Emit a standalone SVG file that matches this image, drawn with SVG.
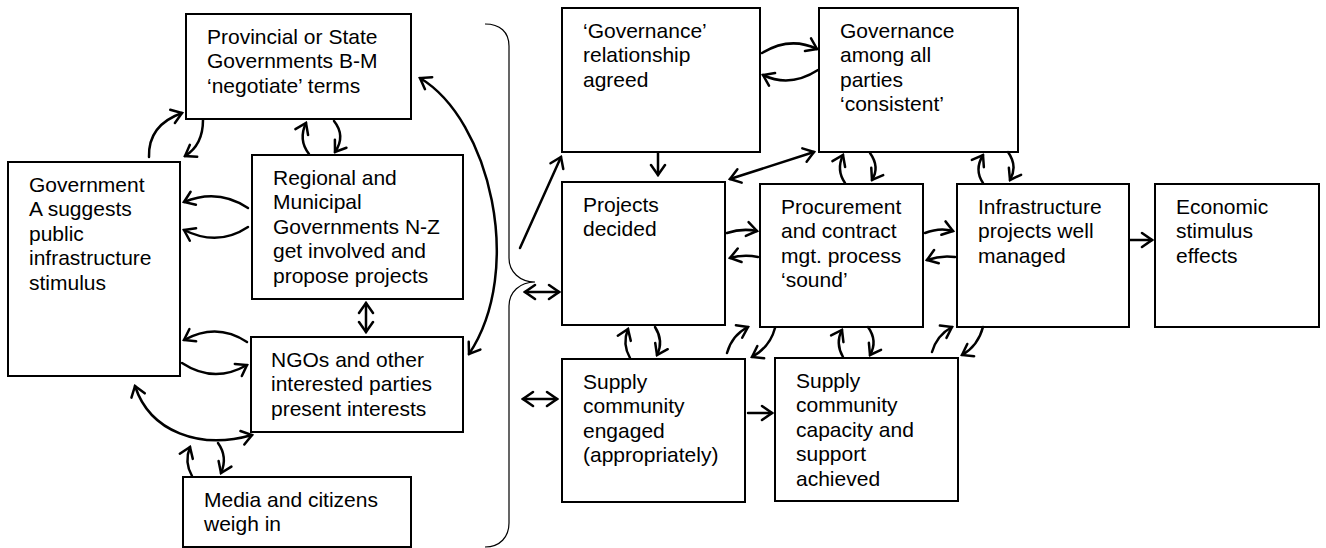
<svg xmlns="http://www.w3.org/2000/svg" width="1326" height="548" viewBox="0 0 1326 548">
<style>
.box{fill:#fff;stroke:#000;stroke-width:2}
.t{font-family:"Liberation Sans",Arial,sans-serif;font-size:21px;fill:#000}
.c{fill:none;stroke:#000;stroke-width:2.5;stroke-linecap:round}
.s{marker-end:url(#ah)}
.d{marker-start:url(#ah);marker-end:url(#ah)}
.br{fill:none;stroke:#000;stroke-width:1.2}
</style>
<defs>
<marker id="ah" viewBox="-12 -9 14 18" markerWidth="14" markerHeight="18" refX="0" refY="0" orient="auto-start-reverse" markerUnits="userSpaceOnUse">
<path d="M-10,-7 L0,0 L-10,7" fill="none" stroke="#000" stroke-width="2.5" stroke-linecap="round" stroke-linejoin="miter"/>
</marker>
</defs>
<rect width="1326" height="548" fill="#fff"/>

<g id="provincial"><rect class="box" x="186" y="14" width="225" height="105"/>
<text class="t" x="207" y="44"><tspan x="207">Provincial or State</tspan><tspan x="207" dy="24.4">Governments B-M</tspan><tspan x="207" dy="24.4">‘negotiate’ terms</tspan></text></g>

<g id="govA"><rect class="box" x="8" y="162" width="172" height="214"/>
<text class="t" x="29" y="192"><tspan x="29">Government</tspan><tspan x="29" dy="24.4">A suggests</tspan><tspan x="29" dy="24.4">public</tspan><tspan x="29" dy="24.4">infrastructure</tspan><tspan x="29" dy="24.4">stimulus</tspan></text></g>

<g id="regional"><rect class="box" x="252" y="155" width="211" height="144"/>
<text class="t" x="273" y="185"><tspan x="273">Regional and</tspan><tspan x="273" dy="24.4">Municipal</tspan><tspan x="273" dy="24.4">Governments N-Z</tspan><tspan x="273" dy="24.4">get involved and</tspan><tspan x="273" dy="24.4">propose projects</tspan></text></g>

<g id="ngos"><rect class="box" x="251" y="337" width="212" height="95"/>
<text class="t" x="271" y="367"><tspan x="271">NGOs and other</tspan><tspan x="271" dy="24.4">interested parties</tspan><tspan x="271" dy="24.4">present interests</tspan></text></g>

<g id="media"><rect class="box" x="183" y="477" width="228" height="70"/>
<text class="t" x="204" y="507"><tspan x="204">Media and citizens</tspan><tspan x="204" dy="24.4">weigh in</tspan></text></g>

<g id="govRel"><rect class="box" x="562" y="8" width="198" height="144"/>
<text class="t" x="583" y="38"><tspan x="583">‘Governance’</tspan><tspan x="583" dy="24.4">relationship</tspan><tspan x="583" dy="24.4">agreed</tspan></text></g>

<g id="govAmong"><rect class="box" x="819" y="8" width="199" height="144"/>
<text class="t" x="840" y="38"><tspan x="840">Governance</tspan><tspan x="840" dy="24.4">among all</tspan><tspan x="840" dy="24.4">parties</tspan><tspan x="840" dy="24.4">‘consistent’</tspan></text></g>

<g id="projects"><rect class="box" x="562" y="182" width="163" height="143"/>
<text class="t" x="583" y="212"><tspan x="583">Projects</tspan><tspan x="583" dy="24.4">decided</tspan></text></g>

<g id="procurement"><rect class="box" x="760" y="184" width="163" height="143"/>
<text class="t" x="781" y="214"><tspan x="781">Procurement</tspan><tspan x="781" dy="24.4">and contract</tspan><tspan x="781" dy="24.4">mgt. process</tspan><tspan x="781" dy="24.4">‘sound’</tspan></text></g>

<g id="infrastructure"><rect class="box" x="957" y="184" width="172" height="143"/>
<text class="t" x="978" y="214"><tspan x="978">Infrastructure</tspan><tspan x="978" dy="24.4">projects well</tspan><tspan x="978" dy="24.4">managed</tspan></text></g>

<g id="economic"><rect class="box" x="1155" y="184" width="164" height="143"/>
<text class="t" x="1176" y="214"><tspan x="1176">Economic</tspan><tspan x="1176" dy="24.4">stimulus</tspan><tspan x="1176" dy="24.4">effects</tspan></text></g>

<g id="supplyEngaged"><rect class="box" x="562" y="359" width="183" height="143"/>
<text class="t" x="583" y="389"><tspan x="583">Supply</tspan><tspan x="583" dy="24.4">community</tspan><tspan x="583" dy="24.4">engaged</tspan><tspan x="583" dy="24.4">(appropriately)</tspan></text></g>

<g id="supplyCapacity"><rect class="box" x="775" y="358" width="183" height="143"/>
<text class="t" x="796" y="388"><tspan x="796">Supply</tspan><tspan x="796" dy="24.4">community</tspan><tspan x="796" dy="24.4">capacity and</tspan><tspan x="796" dy="24.4">support</tspan><tspan x="796" dy="24.4">achieved</tspan></text></g>

<g id="bracket">
<path class="br" d="M485,24 C500,24 509,32 509,46 L509,258 C509,272 520,282 535,282 C520,282 509,292 509,306 L509,523 C509,537 500,547 485,547"/>
</g>

<g id="connectors">
<path class="c s" d="M149,157 Q148,125 182,113"/>
<path class="c s" d="M203,120 Q203,145 185,156"/>
<path class="c s" d="M309,154 Q298,140 306,123"/>
<path class="c s" d="M334,121 Q346,136 335,152"/>
<path class="c s" d="M248,208 Q218,188 184,202"/>
<path class="c s" d="M248,227 Q218,247 184,230"/>
<path class="c s" d="M247,342 Q217,322 184,340"/>
<path class="c s" d="M182,363 Q214,384 247,365"/>
<path class="c d" d="M366,303 L366,332"/>
<path class="c d" d="M135,386 C150,432 200,450 252,435"/>
<path class="c s" d="M192,476 Q184,462 190,447"/>
<path class="c s" d="M218,443 Q228,457 221,473"/>
<path class="c d" d="M420,78 C490,120 525,270 469,354"/>
<path class="c s" d="M520,248 L561,157"/>
<path class="c d" d="M525,292 L559,292"/>
<path class="c d" d="M523,399 L557,399"/>
<path class="c s" d="M658,153 L658,175"/>
<path class="c s" d="M762,53 Q790,36 817,49"/>
<path class="c s" d="M818,70 Q790,88 763,75"/>
<path class="c d" d="M730,179 L814,152"/>
<path class="c s" d="M845,183 Q836,170 843,155"/>
<path class="c s" d="M870,153 Q880,167 872,180"/>
<path class="c s" d="M983,183 Q974,170 983,155"/>
<path class="c s" d="M1008,152 Q1018,166 1010,180"/>
<path class="c s" d="M727,233 Q742,228 757,231"/>
<path class="c s" d="M758,257 Q744,254 730,258"/>
<path class="c s" d="M925,233 Q940,227 953,231"/>
<path class="c s" d="M955,257 Q941,255 927,260"/>
<path class="c s" d="M1130,240 L1152,240"/>
<path class="c s" d="M630,358 Q622,344 628,329"/>
<path class="c s" d="M655,327 Q664,341 657,355"/>
<path class="c s" d="M727,353 Q732,335 748,327"/>
<path class="c s" d="M775,328 Q770,347 752,357"/>
<path class="c s" d="M843,357 Q835,343 842,330"/>
<path class="c s" d="M868,327 Q878,341 870,355"/>
<path class="c s" d="M932,352 Q937,335 952,327"/>
<path class="c s" d="M983,327 Q978,346 962,355"/>
<path class="c s" d="M748,413 L772,413"/>
</g>
</svg>
